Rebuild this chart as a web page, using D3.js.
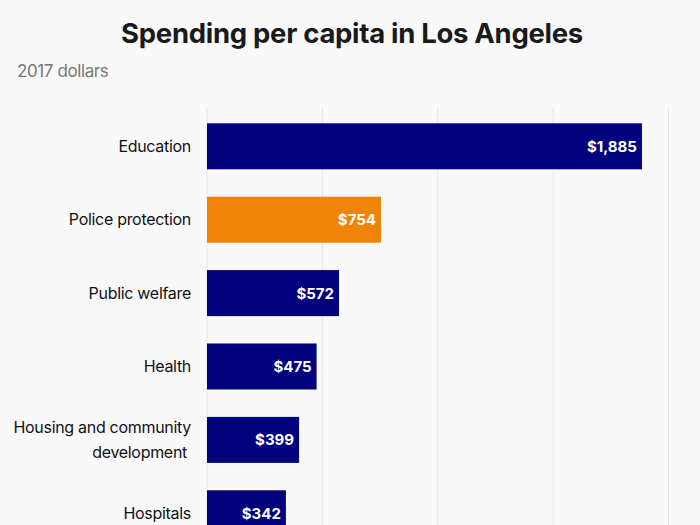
<!DOCTYPE html>
<html><head><meta charset="utf-8">
<script src="https://cdn.jsdelivr.net/npm/d3@7"></script>
<style>body{margin:0;background:#f9f9f9;} svg{display:block;}</style>
</head><body>
<script>
const categories = ["Education","Police protection","Public welfare","Health","Housing and community development","Hospitals"];
const values = [1885, 754, 572, 475, 399, 342];
const highlight = ["Police protection"];
const tickValues = [0, 500, 1000, 1500, 2000];

const W = 700, H = 525;
const svg = d3.select("body").append("svg").attr("width", W).attr("height", H);
svg.append("rect").attr("width", W).attr("height", H).attr("fill", "#f9f9f9");

const x = d3.scaleLinear().domain([0, 2000]).range([207, 668.5]);
const y = d3.scaleBand().domain(categories).range([109.6, 109.6 + 73.4 * categories.length]).paddingInner(0.373).paddingOuter(0.373/2);

svg.append("text").attr("x", 352).attr("y", 43).attr("text-anchor", "middle")
  .attr("font-family", "Inter, Roboto, sans-serif").attr("font-weight", 700).attr("font-size", 27.5)
  .attr("fill", "#1a1a1a").attr("letter-spacing", -0.3).text("Spending per capita in Los Angeles");
svg.append("text").attr("x", 17).attr("y", 77)
  .attr("font-family", "Inter, Roboto, sans-serif").attr("font-size", 17)
  .attr("fill", "#777").attr("letter-spacing", -0.4).text("2017 dollars");

const grid = svg.append("g");
grid.selectAll("line").data(tickValues).join("line")
  .attr("x1", d => x(d)).attr("x2", d => x(d)).attr("y1", 107).attr("y2", H)
  .attr("stroke", "#e6e6e6").attr("stroke-width", 1);

const data = categories.map((c, i) => ({c, v: values[i]}));
svg.selectAll("rect.bar").data(data).join("rect").attr("class", "bar")
  .attr("x", x(0)).attr("y", d => y(d.c)).attr("width", d => x(d.v) - x(0)).attr("height", y.bandwidth())
  .attr("fill", d => highlight.includes(d.c) ? "#f18406" : "#02027e");

const fmt = d3.format("$,");
svg.selectAll("text.val").data(data).join("text").attr("class", "val")
  .attr("x", d => x(d.v) - 5).attr("y", d => y(d.c) + y.bandwidth()/2 + 5.5)
  .attr("text-anchor", "end").attr("font-family", "Inter, Roboto, sans-serif").attr("font-weight", 700)
  .attr("font-size", 15).attr("fill", "#fff").text(d => fmt(d.v));

const labels = svg.selectAll("text.lab").data(data).join("text").attr("class", "lab")
  .attr("text-anchor", "end").attr("font-family", "Inter, Roboto, sans-serif")
  .attr("font-size", 16).attr("fill", "#111").attr("letter-spacing", -0.3);
labels.each(function(d) {
  const t = d3.select(this);
  const cy = y(d.c) + y.bandwidth()/2;
  if (d.c === "Housing and community development") {
    t.append("tspan").attr("x", 191).attr("y", cy - 7).text("Housing and community");
    t.append("tspan").attr("x", 187).attr("y", cy + 18).text("development");
  } else {
    t.attr("x", 191).attr("y", cy + 5.5).text(d.c);
  }
});
</script>
</body></html>
